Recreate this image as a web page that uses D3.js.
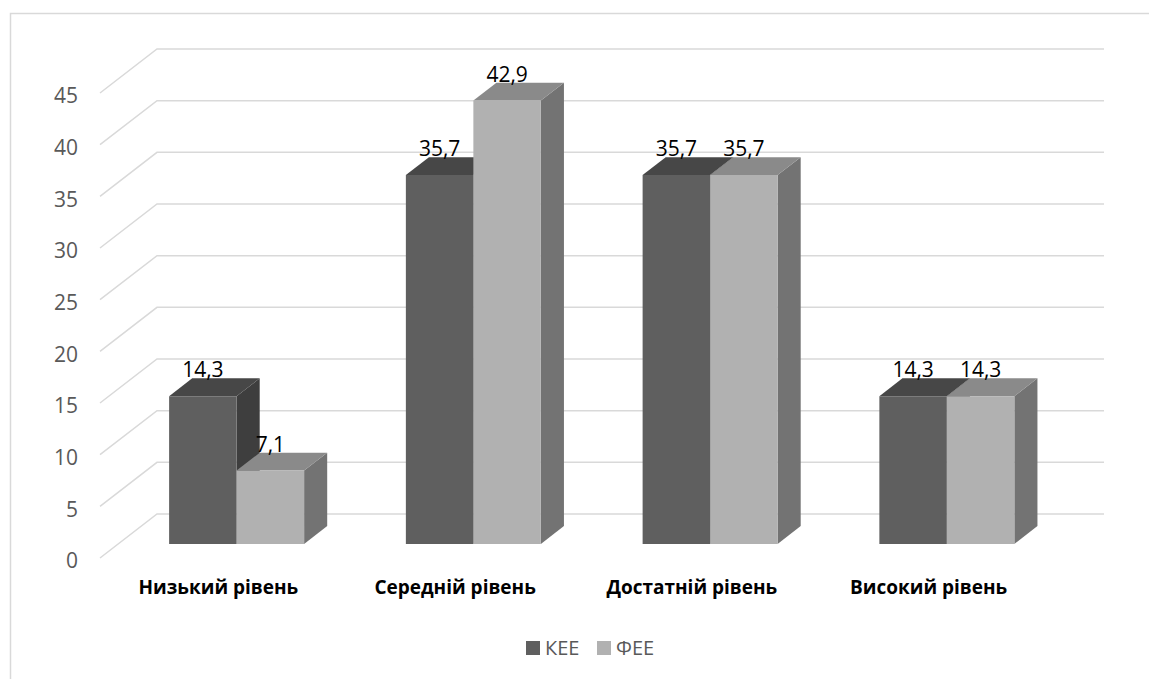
<!DOCTYPE html>
<html><head><meta charset="utf-8">
<script src="https://cdn.jsdelivr.net/npm/d3@7"></script>
<style>html,body{margin:0;padding:0;background:#fff;}svg{display:block;}</style>
</head><body>
<script>
const categories = ["Низький рівень", "Середній рівень", "Достатній рівень", "Високий рівень"];
const seriesNames = ["КЕЕ", "ФЕЕ"];
const keeValues = [14.3, 35.7, 35.7, 14.3];
const feeValues = [7.1, 42.9, 35.7, 14.3];
const yTicks = [0, 5, 10, 15, 20, 25, 30, 35, 40, 45];

const W = 1149, H = 679;
const svg = d3.select("body").append("svg").attr("width", W).attr("height", H);
svg.append("rect").attr("x", 10.5).attr("y", 13.5).attr("width", W + 20).attr("height", H + 20)
  .attr("fill", "#fff").attr("stroke", "#d9d9d9").attr("stroke-width", 1.5);

const DX = 57, DY = -44;
const x = d3.scaleBand().domain(categories).range([100, 1047]).paddingInner(0).paddingOuter(0);
const y = d3.scaleLinear().domain([0, 45]).range([558, 93]);
const d0 = 0.32, d1 = 0.725;
const barW = 67.5;
const FONT = "'Open Sans', sans-serif";

const grid = svg.append("g");
yTicks.forEach(t => {
  const yf = y(t);
  grid.append("path")
    .attr("d", `M100,${yf}L${100 + DX},${yf + DY}L${1047 + DX},${yf + DY}`)
    .attr("fill", "none").attr("stroke", "#d9d9d9").attr("stroke-width", 1.5);
});

const yAxis = d3.axisLeft(y).tickValues(yTicks).tickSize(0).tickPadding(22);
const ga = svg.append("g").attr("transform", "translate(100,3)").call(yAxis);
ga.select(".domain").remove();
ga.selectAll("text").attr("font-family", FONT).attr("font-size", 21).attr("fill", "#595959");

const colors = {
  front: ["#5f5f5f", "#b1b1b1"],
  top: ["#474747", "#8a8a8a"],
  side: ["#3e3e3e", "#737373"]
};

const data = [];
categories.forEach((c, i) => {
  [keeValues[i], feeValues[i]].forEach((v, s) => data.push({c, s, v}));
});

function barGeom(d) {
  const bx = x(d.c) + (x.bandwidth() - 2 * barW) / 2 + d.s * barW;
  const ox0 = DX * d0, oy0 = DY * d0, ox1 = DX * d1, oy1 = DY * d1;
  const yb = y(0), yt = y(d.v);
  return {
    front: [[bx + ox0, yb + oy0], [bx + barW + ox0, yb + oy0], [bx + barW + ox0, yt + oy0], [bx + ox0, yt + oy0]],
    top: [[bx + ox0, yt + oy0], [bx + barW + ox0, yt + oy0], [bx + barW + ox1, yt + oy1], [bx + ox1, yt + oy1]],
    side: [[bx + barW + ox0, yb + oy0], [bx + barW + ox1, yb + oy1], [bx + barW + ox1, yt + oy1], [bx + barW + ox0, yt + oy0]],
    cx: bx + ox0 + barW / 2, ytop: yt + oy0
  };
}
const line = d3.line();
const bars = svg.append("g");
categories.forEach((c) => {
  const kd = data.find(d => d.c === c && d.s === 0);
  const fd = data.find(d => d.c === c && d.s === 1);
  const kg = barGeom(kd), fg = barGeom(fd);
  bars.append("path").attr("d", line(kg.side) + "Z").attr("fill", colors.side[0]);
  bars.append("path").attr("d", line(kg.top) + "Z").attr("fill", colors.top[0]);
  bars.append("path").attr("d", line(kg.front) + "Z").attr("fill", colors.front[0]);
  bars.append("path").attr("d", line(fg.side) + "Z").attr("fill", colors.side[1]);
  bars.append("path").attr("d", line(fg.top) + "Z").attr("fill", colors.top[1]);
  bars.append("path").attr("d", line(fg.front) + "Z").attr("fill", colors.front[1]);
});

svg.append("g").selectAll("text").data(data).join("text")
  .attr("x", d => barGeom(d).cx)
  .attr("y", d => barGeom(d).ytop - 19)
  .attr("text-anchor", "middle")
  .attr("font-family", FONT).attr("font-size", 21).attr("fill", "#000")
  .text(d => String(d.v).replace(".", ","));

svg.append("g").selectAll("text").data(categories).join("text")
  .attr("x", d => x(d) + x.bandwidth() / 2)
  .attr("y", 594)
  .attr("text-anchor", "middle")
  .attr("font-family", FONT).attr("font-weight", "bold").attr("font-size", 19).attr("fill", "#000")
  .text(d => d);

const leg = svg.append("g");
const legX = [526, 597];
seriesNames.forEach((n, s) => {
  leg.append("rect").attr("x", legX[s]).attr("y", 641).attr("width", 14).attr("height", 14).attr("fill", colors.front[s]);
  leg.append("text").attr("x", legX[s] + 19).attr("y", 655)
    .attr("font-family", FONT).attr("font-size", 20).attr("fill", "#595959").text(n);
});
</script>
</body></html>
